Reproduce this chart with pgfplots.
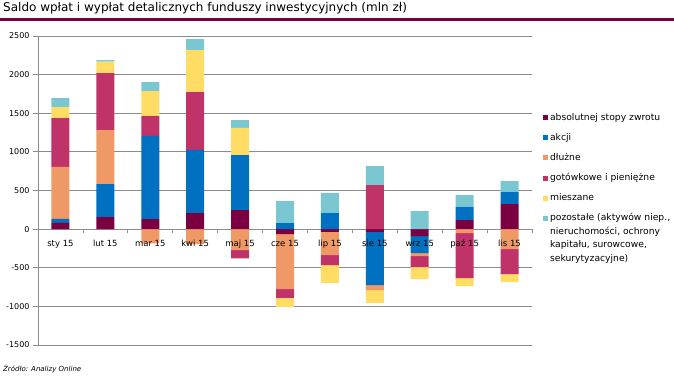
\documentclass[border=0pt]{standalone}
\usepackage{fontspec}
\setmainfont{DejaVu Sans}
\usepackage{pgfplots}
\usepackage{pgfplotstable}
\pgfplotsset{compat=1.18}

\definecolor{cabs}{HTML}{7B0041}
\definecolor{cakc}{HTML}{0070C0}
\definecolor{cdlu}{HTML}{EE9966}
\definecolor{cgot}{HTML}{BF3369}
\definecolor{cmie}{HTML}{FFDC64}
\definecolor{cpoz}{HTML}{7AC7D1}
\definecolor{cgrid}{HTML}{8C8C8C}

% net flows, mln zl
\pgfplotstableread{
x abs akc dlu got mie poz
0 82 51 674 630 143 117
1 155 428 699 738 147 22
2 130 1078 -186 255 324 117
3 207 820 -194 747 544 143
4 246 712 -272 -108 354 99
5 -65 78 -712 -112 -117 285
6 -35 207 -302 -129 -233 259
7 -35 -690 -65 570 -168 246
8 -91 -220 -39 -142 -156 233
9 117 168 -52 -582 -104 155
10 324 155 -259 -324 -103 142
}\data

\pgfplotsset{
  common/.style={scale only axis, width=494bp, height=309bp,
    xmin=-0.5, xmax=10.5, ymin=-1500, ymax=2500,
    ybar stacked, bar width=18bp, at={(0,0)}, anchor=south west,
    axis x line=middle, axis y line=left,
    hide obscured y ticks=false, hide obscured x ticks=false,
    tick align=outside, major tick length=5bp, minor tick length=4bp,
    ytick={-1500,-1000,...,2500},
    xtick={0,...,10},
    /pgf/number format/1000 sep={}, /pgf/number format/assume math mode=true,
  },
}

\begin{document}
\begin{tikzpicture}
\path[use as bounding box] (-38bp,-33bp) rectangle (636bp,345bp);
% grid, axis lines, y labels and negative parts
\begin{axis}[common,
  axis line style={draw=cgrid, line width=0.8bp, -},
  ymajorgrids, major grid style={draw=cgrid, line width=0.8bp},
  every tick/.style={draw=cgrid, line width=0.8bp},
  major x tick style={draw=none},
  minor xtick={0.5,1.5,...,10.5},
  xticklabels={},
  yticklabel style={font=\fontsize{8bp}{10bp}\selectfont},
]
\addplot[fill=cabs, draw=none] table[x=x, y expr={min(\thisrow{abs},0)}] {\data};
\addplot[fill=cakc, draw=none] table[x=x, y expr={min(\thisrow{akc},0)}] {\data};
\addplot[fill=cdlu, draw=none] table[x=x, y expr={min(\thisrow{dlu},0)}] {\data};
\addplot[fill=cgot, draw=none] table[x=x, y expr={min(\thisrow{got},0)}] {\data};
\addplot[fill=cmie, draw=none] table[x=x, y expr={min(\thisrow{mie},0)}] {\data};
\addplot[fill=cpoz, draw=none] table[x=x, y expr={min(\thisrow{poz},0)}] {\data};
\end{axis}
% positive parts, x labels, legend
\begin{axis}[common,
  axis line style={draw=none},
  every tick/.style={draw=none},
  yticklabels={},
  xticklabels={sty 15, lut 15, mar 15, kwi 15, maj 15, cze 15, lip 15, sie 15, wrz 15, paź 15, lis 15},
  xticklabel style={font=\fontsize{8.5bp}{10bp}\selectfont, inner sep=2bp, yshift=-3.5bp},
  legend style={at={(1.022,0.757)}, anchor=north west, draw=none, fill=none,
    font=\fontsize{9.2bp}{12.7bp}\selectfont, cells={anchor=base west},
    row sep=7.5bp, inner sep=0pt},
  legend image code/.code={\fill[#1,draw=none] (0bp,0bp) rectangle (5bp,5bp);},
]
\addplot[fill=cabs, draw=none] table[x=x, y expr={max(\thisrow{abs},0)}] {\data};
\addlegendentry{absolutnej stopy zwrotu}
\addplot[fill=cakc, draw=none] table[x=x, y expr={max(\thisrow{akc},0)}] {\data};
\addlegendentry{akcji}
\addplot[fill=cdlu, draw=none] table[x=x, y expr={max(\thisrow{dlu},0)}] {\data};
\addlegendentry{dłużne}
\addplot[fill=cgot, draw=none] table[x=x, y expr={max(\thisrow{got},0)}] {\data};
\addlegendentry{gotówkowe i pieniężne}
\addplot[fill=cmie, draw=none] table[x=x, y expr={max(\thisrow{mie},0)}] {\data};
\addlegendentry{mieszane}
\addplot[fill=cpoz, draw=none] table[x=x, y expr={max(\thisrow{poz},0)}] {\data};
\addlegendentry{\vtop{\baselineskip=13.5bp\hbox{pozostałe (aktywów niep.,}\hbox{nieruchomości, ochrony}\hbox{kapitału, surowcowe,}\hbox{sekurytyzacyjne)}}}
\end{axis}
\node[anchor=base west, inner sep=0pt, font=\fontsize{12bp}{13bp}\selectfont] at (-35bp,333.5bp) {Saldo wpłat i wypłat detalicznych funduszy inwestycyjnych (mln zł)};
\draw[cabs, line width=2.7bp] (-38bp,325.5bp) -- (636bp,325.5bp);
\node[anchor=base west, inner sep=0pt, font=\fontsize{7bp}{8bp}\selectfont\itshape] at (-35bp,-26bp) {Źródło: Analizy Online};
\end{tikzpicture}
\end{document}
